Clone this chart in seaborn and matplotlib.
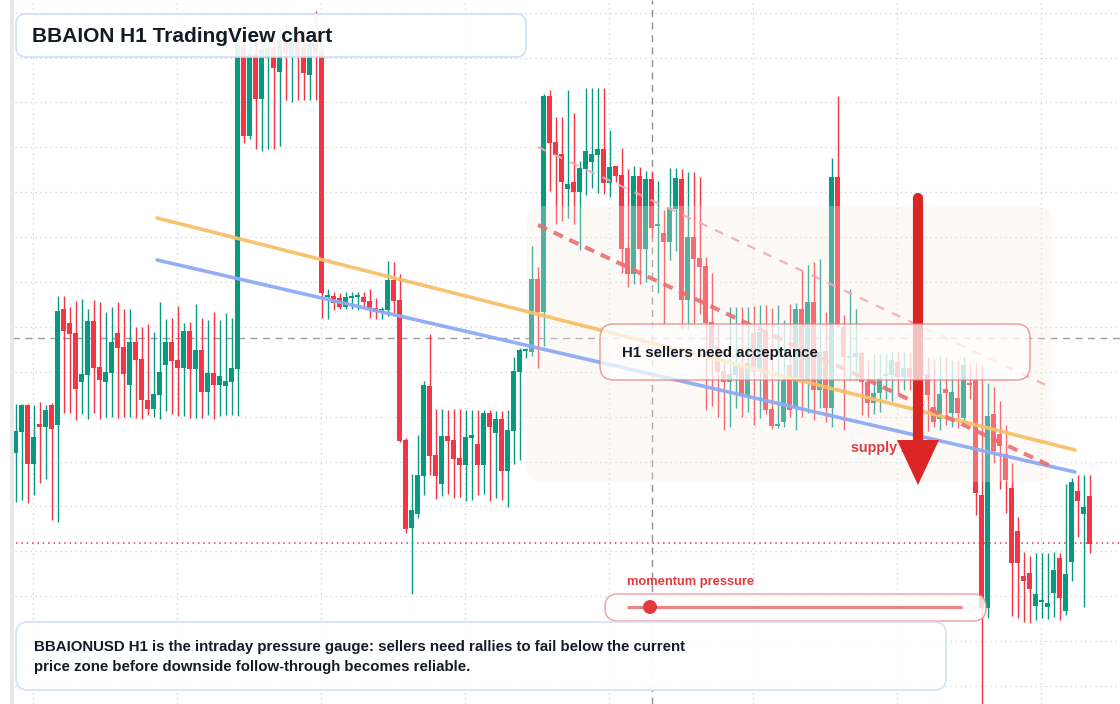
import numpy as np
import pandas as pd
import matplotlib
matplotlib.use("Agg")
import matplotlib.pyplot as plt
import seaborn as sns
from matplotlib.patches import FancyBboxPatch, Polygon, Circle, Rectangle
from matplotlib.lines import Line2D
from matplotlib.transforms import Affine2D

# H1 candles (price units are arbitrary chart units)
opens = [25.1, 27.2, 29.9, 24.0, 28.0, 27.7, 29.9, 27.9, 39.5, 38.1,
         37.1, 32.2, 32.9, 38.3, 33.7, 32.2, 33.1, 37.1, 35.7, 31.9,
         36.2, 34.5, 30.4, 29.5, 30.9, 33.9, 36.2, 34.4, 33.6, 37.3,
         33.5, 35.4, 31.2, 33.1, 31.9, 31.8, 32.2, 33.5, 65.9, 56.8,
         65.0, 60.5, 64.6, 65.6, 63.2, 66.7, 64.9, 66.5, 65.7, 62.9,
         67.1, 65.2, 40.7, 40.8, 40.6, 39.7, 40.6, 40.7, 40.7, 40.3,
         39.6, 39.2, 39.4, 42.4, 40.4, 26.4, 17.6, 19.0, 22.8, 31.8,
         24.9, 22.0, 26.8, 26.4, 24.6, 23.9, 26.6, 26.0, 23.9, 29.1,
         27.1, 28.5, 23.3, 27.3, 33.2, 35.3, 35.2, 42.5, 39.2, 60.8,
         56.2, 55.0, 51.5, 52.2, 51.2, 53.5, 54.2, 54.9, 55.5, 52.1,
         53.8, 52.9, 45.6, 43.0, 52.8, 45.5, 52.5, 47.8, 47.1, 46.2,
         49.5, 52.5, 40.4, 46.7, 44.6, 43.8, 38.2, 35.7, 33.3, 32.2,
         32.9, 33.8, 30.9, 37.1, 33.4, 37.4, 29.5, 27.8, 28.2, 33.9,
         29.6, 39.5, 32.4, 40.2, 31.4, 35.3, 29.6, 52.7, 37.7, 34.6,
         34.7, 35.1, 32.2, 30.1, 31.1, 32.8, 32.9, 34.2, 32.7, 33.6,
         32.8, 33.4, 33.0, 29.7, 28.5, 31.5, 29.1, 30.6, 28.6, 32.1,
         32.4, 20.9, 9.6, 29.0, 27.0, 25.0, 21.6, 17.3, 12.8, 13.1,
         9.8, 10.2, 9.7, 11.1, 14.6, 9.3, 14.2, 21.3, 19.0, 20.8]
highs = [30.0, 30.0, 30.0, 29.9, 30.2, 29.9, 30.1, 40.8, 40.8, 39.7,
         40.3, 40.5, 39.5, 40.4, 40.2, 39.2, 39.7, 40.2, 39.5, 39.5,
         37.7, 37.7, 38.0, 37.2, 40.2, 38.5, 38.6, 39.8, 38.1, 38.2,
         40.0, 38.6, 38.4, 39.2, 38.4, 39.1, 38.6, 67.4, 67.0, 66.5,
         66.5, 66.5, 67.0, 67.2, 67.7, 68.0, 67.5, 67.8, 67.5, 67.3,
         69.3, 65.5, 41.5, 41.2, 41.1, 41.2, 41.2, 41.2, 41.2, 41.5,
         40.6, 39.7, 44.3, 44.2, 43.0, 26.6, 23.0, 26.9, 32.3, 37.0,
         29.5, 29.5, 29.4, 29.5, 29.5, 29.4, 29.4, 29.4, 29.4, 29.4,
         29.3, 29.3, 29.4, 34.7, 35.6, 35.6, 45.8, 43.7, 61.0, 61.4,
         58.7, 58.7, 61.4, 59.1, 54.3, 61.6, 61.6, 61.6, 61.6, 57.4,
         53.8, 55.6, 53.5, 53.8, 53.7, 53.3, 53.3, 52.3, 49.4, 53.6,
         53.6, 53.5, 53.2, 53.2, 52.7, 44.7, 43.1, 38.0, 34.5, 39.7,
         39.7, 39.7, 39.7, 39.8, 39.9, 39.9, 39.6, 39.9, 38.4, 40.0,
         40.1, 43.4, 43.9, 44.2, 44.5, 39.2, 54.6, 60.8, 38.9, 41.5,
         39.5, 35.2, 34.4, 35.0, 35.0, 35.0, 35.2, 35.2, 35.2, 35.2,
         35.2, 35.1, 34.7, 34.5, 34.8, 34.7, 34.4, 34.4, 34.7, 34.1,
         34.1, 33.9, 32.1, 31.7, 30.3, 27.9, 24.1, 18.7, 15.2, 14.8,
         15.1, 15.1, 15.1, 15.2, 15.1, 22.0, 22.6, 22.9, 22.9, 22.9]
lows = [20.2, 20.4, 20.1, 20.9, 22.1, 22.5, 18.4, 18.2, 29.1, 29.1,
        28.4, 29.0, 28.5, 29.1, 28.5, 28.7, 28.7, 28.6, 28.7, 28.7,
        28.6, 28.5, 28.9, 28.7, 28.5, 29.3, 29.0, 28.8, 28.8, 28.6,
        28.6, 28.6, 28.9, 28.5, 28.8, 28.9, 28.9, 28.8, 56.1, 56.5,
        55.5, 55.3, 55.5, 55.5, 55.8, 60.4, 60.2, 60.4, 60.4, 60.4,
        60.4, 38.6, 38.5, 39.4, 39.5, 39.5, 39.5, 39.4, 39.5, 38.6,
        38.5, 38.5, 38.8, 39.1, 26.2, 17.1, 11.0, 18.6, 20.9, 22.9,
        20.5, 20.8, 21.0, 20.6, 20.7, 20.3, 20.4, 20.9, 21.0, 20.3,
        20.6, 20.4, 19.7, 24.0, 24.4, 34.6, 34.8, 33.6, 35.8, 51.3,
        48.0, 48.3, 48.6, 48.0, 45.4, 50.9, 51.6, 51.1, 51.0, 50.7,
        52.2, 43.1, 41.7, 42.0, 42.0, 42.2, 46.7, 41.1, 38.0, 44.4,
        45.3, 37.5, 37.5, 38.0, 39.0, 29.4, 29.8, 28.7, 27.4, 27.7,
        29.6, 28.7, 29.2, 27.9, 28.6, 29.0, 27.5, 27.6, 27.7, 28.7,
        27.4, 28.7, 29.1, 28.4, 29.6, 28.2, 27.7, 37.7, 27.4, 32.4,
        32.4, 28.9, 28.7, 29.0, 29.2, 30.5, 30.3, 31.0, 31.4, 31.4,
        30.8, 30.4, 27.3, 27.7, 27.4, 27.9, 27.7, 27.6, 28.2, 30.5,
        18.9, -0.5, 8.6, 24.1, 21.5, 19.1, 8.8, 8.6, 8.2, 8.1,
        8.4, 8.6, 8.5, 8.7, 8.4, 8.9, 12.3, 16.7, 9.7, 15.1]
closes = [27.3, 29.9, 24.0, 26.7, 27.7, 29.4, 27.5, 39.3, 37.3, 37.0,
          31.5, 33.0, 38.3, 33.6, 32.4, 33.2, 36.2, 35.6, 33.0, 36.2,
          34.4, 30.4, 29.5, 31.0, 33.2, 36.2, 34.3, 33.6, 37.3, 33.5,
          35.4, 31.2, 33.1, 31.9, 32.8, 32.3, 33.6, 65.9, 56.8, 65.0,
          60.5, 65.5, 65.6, 63.6, 66.4, 65.1, 66.1, 64.8, 63.1, 66.0,
          65.1, 41.1, 40.8, 40.1, 39.7, 40.7, 40.8, 40.75, 40.2, 39.5,
          39.2, 39.5, 42.4, 40.3, 26.3, 17.5, 19.4, 22.9, 31.9, 24.8,
          22.8, 26.8, 26.3, 24.5, 23.9, 26.7, 26.9, 23.9, 29.1, 27.7,
          28.5, 23.3, 27.4, 33.3, 35.4, 35.4, 42.5, 39.2, 60.8, 56.1,
          54.9, 52.2, 52.0, 51.2, 53.6, 55.3, 55.0, 55.5, 52.1, 53.7,
          52.8, 45.5, 43.0, 52.8, 45.5, 52.5, 47.6, 47.9, 46.2, 49.6,
          52.6, 40.4, 46.7, 44.5, 43.7, 38.1, 35.6, 33.2, 32.2, 33.0,
          33.8, 30.9, 34.1, 33.2, 37.2, 29.4, 27.8, 27.9, 32.4, 29.4,
          39.5, 32.2, 40.2, 31.4, 35.2, 29.6, 52.7, 37.9, 34.7, 34.8,
          35.1, 32.2, 30.1, 31.1, 32.6, 32.9, 34.4, 32.7, 33.6, 32.7,
          33.4, 32.9, 30.9, 28.2, 31.0, 31.1, 31.2, 29.1, 33.9, 31.9,
          21.1, 9.6, 28.8, 25.3, 25.8, 22.4, 14.1, 14.1, 12.3, 11.5,
          11.0, 10.3, 10.1, 13.4, 10.6, 13.0, 22.2, 20.3, 19.7, 16.0]

# drawn levels / trend lines (bar index, price)
orange_trend_bars = [23.55, 176.55]
orange_trend_prices = [48.6, 25.4]
blue_trend_bars = [23.55, 176.55]
blue_trend_prices = [44.4, 23.2]
sell_trend_bars = [87.05, 173.2]
sell_trend_prices = [47.9, 23.6]
upper_trend_bars = [87.05, 172.4]
upper_trend_prices = [55.7, 31.7]
pivot_level = 36.6
support_level = 16.1
crosshair_bar = 106

title_text = "BBAION H1 TradingView chart"
note_text = ("BBAIONUSD H1 is the intraday pressure gauge: sellers need rallies to fail below the current\n"
             "price zone before downside follow-through becomes reliable.")
box_text = "H1 sellers need acceptance"
zone_text = "supply zone"
gauge_text = "momentum pressure"

GREEN = "#089981"
RED = "#f23645"
INK = "#141a26"
LABEL_RED = "#e0393e"

sns.set_theme(style="white")
plt.rcParams['font.family'] = ['Liberation Sans', 'DejaVu Sans']

W, H = 1120, 704
fig = plt.figure(figsize=(W / 100, H / 100), dpi=100)
ax = fig.add_axes([0, 0, 1, 1])
ax.set_xlim(-15.7 / 6, (W - 15.7) / 6)
ax.set_ylim(0, H / 10)
for s in ax.spines.values():
    s.set_visible(False)

# pixel transform (x right, y down from top-left) for the overlay widgets
px = Affine2D().scale(1 / 100, -1 / 100).translate(0, H / 100) + fig.dpi_scale_trans

# grid
ax.set_xticks(np.arange(2.88, 185, 24))
ax.set_yticks(np.arange(69.14, -1, -4.49))
ax.tick_params(length=0, labelleft=False, labelbottom=False)
ax.grid(True, color="#cdd1d6", linestyle=(0, (1, 3)), linewidth=0.9, zorder=0)

# levels
ax.axhline(pivot_level, color="#9c9c9c", lw=1.0, ls=(0, (5, 4)), zorder=1)
ax.axhline(support_level, color=LABEL_RED, lw=1.1, ls=(0, (1, 2.5)), zorder=1)
ax.axvline(crosshair_bar, color="#8f8f8f", lw=1.0, ls=(0, (5, 4)), zorder=1)

# candles
df = pd.DataFrame({"o": opens, "h": highs, "l": lows, "c": closes})
df["bar"] = np.arange(len(df))
colors = np.where(df.c >= df.o, GREEN, RED)
ax.vlines(df.bar, df.l, df.h, colors=colors, lw=1.0, zorder=2)
body_low = np.minimum(df.o, df.c)
body_h = np.maximum((df.c - df.o).abs(), 0.2)
ax.bar(df.bar, body_h, bottom=body_low, width=0.8, color=colors, linewidth=0, zorder=2.1)

# supply zone shading
ax.add_patch(FancyBboxPatch((527, 206), 525, 276, boxstyle="round,pad=0,rounding_size=16",
                            transform=px, fc="#f9eee2", ec="none", alpha=0.3, zorder=3))

# trend lines
sns.lineplot(x=orange_trend_bars, y=orange_trend_prices, ax=ax, color="#f7c067", lw=2.6,
             alpha=0.95, zorder=3.5)
sns.lineplot(x=blue_trend_bars, y=blue_trend_prices, ax=ax, color="#8eaaf6", lw=2.6,
             alpha=0.95, zorder=3.5)
l1 = sns.lineplot(x=sell_trend_bars, y=sell_trend_prices, ax=ax, color="#e86e70", lw=2.9,
                  alpha=0.9, zorder=3.6).lines[-1]
l1.set_dashes((2.5, 1.8))
l2 = sns.lineplot(x=upper_trend_bars, y=upper_trend_prices, ax=ax, color="#f3a9ab", lw=1.6,
                  alpha=0.9, zorder=3.6).lines[-1]
l2.set_dashes((4, 4))

# supply zone label and arrow
ax.text(851, 448, zone_text, transform=px, color=LABEL_RED, fontsize=10.3, fontweight="bold",
        va="center", ha="left", zorder=4)
ax.add_line(Line2D([918, 918], [198, 445], transform=px, color="#dc2626", lw=7.3,
                   solid_capstyle="round", zorder=4.5))
ax.add_patch(Polygon([(897, 440), (939, 440), (918, 485)], closed=True, transform=px,
                     fc="#dc2626", ec="none", zorder=4.5))

# acceptance box
ax.add_patch(FancyBboxPatch((600, 324), 430, 56, boxstyle="round,pad=0,rounding_size=14",
                            transform=px, fc="white", ec="#e9797d", lw=1.1, alpha=0.72, zorder=6))
ax.text(622, 353, box_text, transform=px, color=INK, fontsize=10.8, fontweight="bold",
        va="center", ha="left", zorder=7)

# title box
ax.add_patch(FancyBboxPatch((16, 14), 510, 43, boxstyle="round,pad=0,rounding_size=10",
                            transform=px, fc="white", ec="#cddcf4", lw=1.2, alpha=0.9, zorder=6))
ax.text(32, 36, title_text, transform=px, color=INK, fontsize=15, fontweight="bold",
        va="center", ha="left", zorder=7)

# momentum gauge
ax.text(627, 582, gauge_text, transform=px, color=LABEL_RED, fontsize=9.3, fontweight="bold",
        va="center", ha="left", zorder=7)
ax.add_patch(FancyBboxPatch((605, 594), 381, 27, boxstyle="round,pad=0,rounding_size=13",
                            transform=px, fc="white", ec="#ea8f92", lw=1.1, alpha=0.8, zorder=6))
ax.add_line(Line2D([627, 962], [607, 607], transform=px, color="#ea8587", lw=2.3,
                   solid_capstyle="butt", zorder=7))
ax.add_patch(Circle((650, 607), 7, transform=px, fc="#e23a3d", ec="none", zorder=7.5))

# bottom note
ax.add_patch(FancyBboxPatch((16, 622), 930, 68, boxstyle="round,pad=0,rounding_size=12",
                            transform=px, fc="white", ec="#d3e0f5", lw=1.2, alpha=0.96, zorder=6))
ax.text(34, 657, note_text, transform=px, color=INK, fontsize=10.8, fontweight="bold",
        va="center", ha="left", linespacing=1.6, zorder=7)

# left margin strip
ax.add_patch(Rectangle((0, 0), 10, H, transform=px, fc="white", ec="none", zorder=8))
ax.add_patch(Rectangle((10, 0), 4, H, transform=px, fc="#e8e8e8", ec="none", zorder=8))

fig.savefig("out.png", dpi=100)
